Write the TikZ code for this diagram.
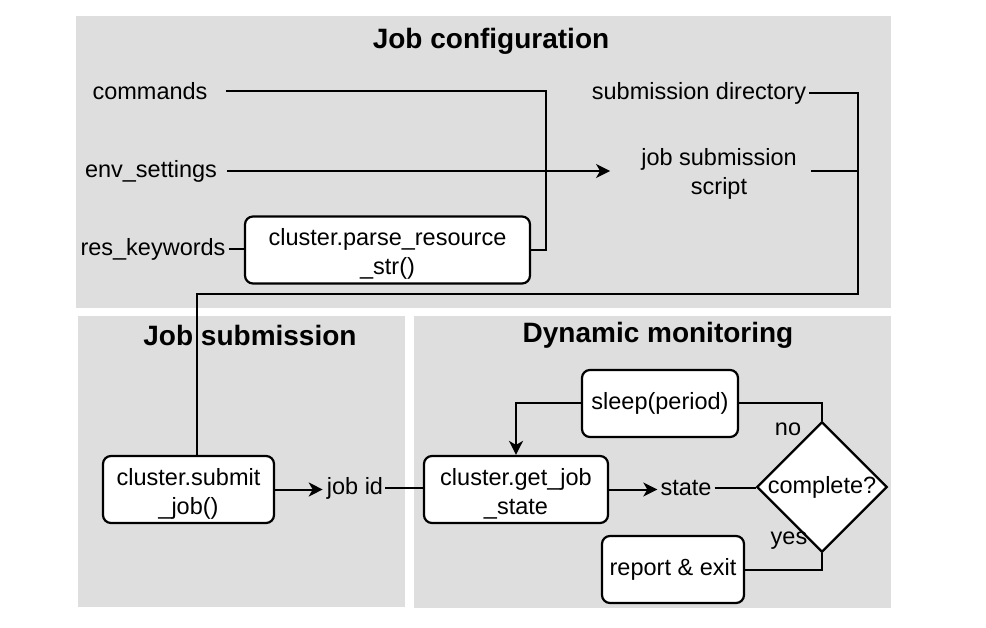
\documentclass[tikz,border=0pt]{standalone}
\usepackage{fontspec}
\setmainfont{Liberation Sans}
\usetikzlibrary{shapes.geometric,arrows.meta,calc}
\definecolor{panelgray}{RGB}{222,222,222}
\newcommand\lblf{\fontsize{23.5}{29}\selectfont}
\newcommand\ttlf{\fontsize{28}{32}\selectfont\bfseries}
\newcommand\topstrut{\rule{0pt}{25pt}}
\begin{document}
\begin{tikzpicture}[x=1pt,y=-1pt,
  lbl/.style={font=\lblf, inner sep=0pt, align=center},
  ttl/.style={font=\ttlf, inner sep=0pt},
  box/.style={draw, line width=2.2pt, rounded corners=8pt, fill=white, align=center, font=\lblf, minimum height=67pt, inner sep=0pt},
  conn/.style={line width=2pt},
  arr/.style={conn, -{Stealth[length=14pt,width=14pt,inset=4pt]}}]
\fill[white] (0,0) rectangle (986,628);
\useasboundingbox (0,0) rectangle (986,628);
% panels
\fill[panelgray] (76,16) rectangle (891,308);
\fill[panelgray] (78,316) rectangle (405,607);
\fill[panelgray] (414,316) rectangle (891,608);
% titles
\node[ttl] (tconf) at (491,41) {Job configuration};
\node[ttl] (tsub) at (250,335) {Job submission};
\node[ttl] (tmon) at (658,335) {Dynamic monitoring};
% job configuration
\node[lbl] (cmd) at (150,91) {commands};
\node[lbl] (env) at (151,171) {env\_settings};
\node[lbl] (res) at (153,249) {res\_keywords};
\node[box, minimum width=285pt] (parse) at (387.5,250) {\topstrut cluster.parse\_resource\\\_str()};
\node[lbl] (subdir) at (699,93) {submission directory};
\node[lbl] (script) at (719,174) {job submission\\script};
% job submission
\node[box, minimum width=171pt] (submit) at (188.5,489.5) {\topstrut cluster.submit\\\_job()};
\node[lbl] (jobid) at (355,488) {job id};
% monitoring
\node[box, minimum width=184pt] (getjob) at (516,489.5) {\topstrut cluster.get\_job\\\_state};
\node[lbl] (state) at (686,488) {state};
\node[draw, diamond, aspect=1, inner sep=0pt, line width=2.2pt, fill=white, font=\lblf] (dia) at (822,487) {complete?};
\node[box, minimum width=156pt] (sleep) at (660,403.5) {sleep(period)};
\node[box, minimum width=142pt] (report) at (673,569.5) {report \& exit};
\node[lbl] (no) at (788,429) {no};
\node[lbl] (yes) at (789,541) {yes};
% coordinates
\coordinate (busBot) at (858,294);
\coordinate (subIn) at ([xshift=8pt]submit.north);
\coordinate (envEnd) at ([xshift=-31pt]script.west);
\coordinate (scrR) at ([xshift=14pt]script.east);
% connectors
\draw[conn] ([xshift=18pt]cmd.east) -| ([xshift=15pt]parse.east) -- (parse.east);
\draw[arr] ([xshift=10pt]env.east) -- (env.east -| envEnd);
\draw[conn] ([xshift=3pt]res.east) -- (res.east -| parse.west);
\draw[conn] ([xshift=3pt]subdir.east) -| (busBot) -- (busBot -| subIn) -- (subIn);
\draw[conn] (scrR |- env.east) -- (env.east -| busBot);
\draw[arr, shorten >=4pt] (submit.east) -- (submit.east -| jobid.west);
\draw[conn] ([xshift=2pt]jobid.east) -- (jobid.east -| getjob.west);
\draw[arr, shorten >=3pt] (getjob.east) -- (getjob.east -| state.west);
\draw[conn] ([xshift=3pt]state.east) -- (state.east -| dia.west);
\draw[conn] (dia.north) |- (sleep.east);
\draw[arr] (sleep.west) -| (getjob.north);
\draw[conn] (dia.south) |- (report.east);
\end{tikzpicture}
\end{document}
